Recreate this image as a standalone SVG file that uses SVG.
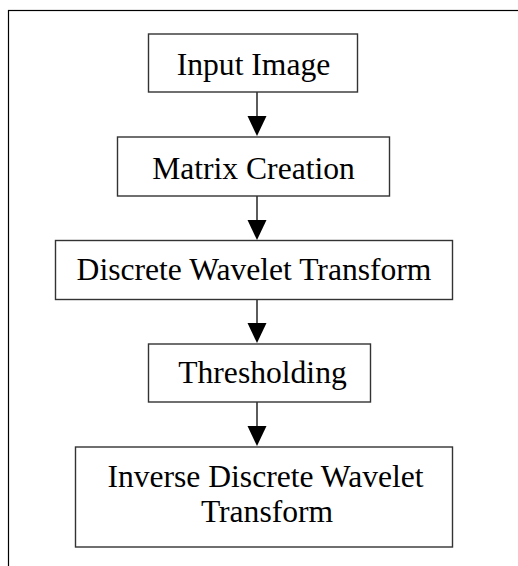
<svg xmlns="http://www.w3.org/2000/svg" width="518" height="566" viewBox="0 0 518 566">
  <style>
    .box { fill: #fff; stroke: #333; stroke-width: 1.4; }
    .lbl { font-family: "Liberation Serif", "Times New Roman", serif; font-size: 31.6px; fill: #000; text-anchor: middle; }
    .edge { stroke: #333; stroke-width: 1.6; fill: none; }
    .head { fill: #000; }
  </style>
  <rect width="518" height="566" fill="#fff"/>
  <!-- outer frame -->
  <rect x="8.5" y="10.5" width="530" height="580" fill="none" stroke="#000" stroke-width="1.2"/>

  <g id="connectors">
    <line class="edge" x1="257" y1="92" x2="257" y2="118"/>
    <polygon class="head" points="247.5,116 266.5,116 257,136"/>
    <line class="edge" x1="257" y1="196" x2="257" y2="222"/>
    <polygon class="head" points="247.5,220 266.5,220 257,240"/>
    <line class="edge" x1="257" y1="300" x2="257" y2="325"/>
    <polygon class="head" points="247.5,323 266.5,323 257,343"/>
    <line class="edge" x1="257" y1="402" x2="257" y2="428"/>
    <polygon class="head" points="247.5,426 266.5,426 257,446"/>
  </g>

  <g id="input-image">
    <rect class="box" x="148.5" y="34" width="209" height="58"/>
    <text class="lbl" x="253.5" y="75">Input Image</text>
  </g>
  <g id="matrix-creation">
    <rect class="box" x="117.5" y="137" width="272" height="59"/>
    <text class="lbl" x="253.5" y="179">Matrix Creation</text>
  </g>
  <g id="dwt">
    <rect class="box" x="55.5" y="240.5" width="397" height="59"/>
    <text class="lbl" x="254" y="280">Discrete Wavelet Transform</text>
  </g>
  <g id="thresholding">
    <rect class="box" x="148.5" y="344" width="222" height="58"/>
    <text class="lbl" x="262.5" y="383">Thresholding</text>
  </g>
  <g id="idwt">
    <rect class="box" x="75.5" y="447" width="377" height="100"/>
    <text class="lbl" x="265.5" y="487">Inverse Discrete Wavelet</text>
    <text class="lbl" x="267" y="522">Transform</text>
  </g>
</svg>
